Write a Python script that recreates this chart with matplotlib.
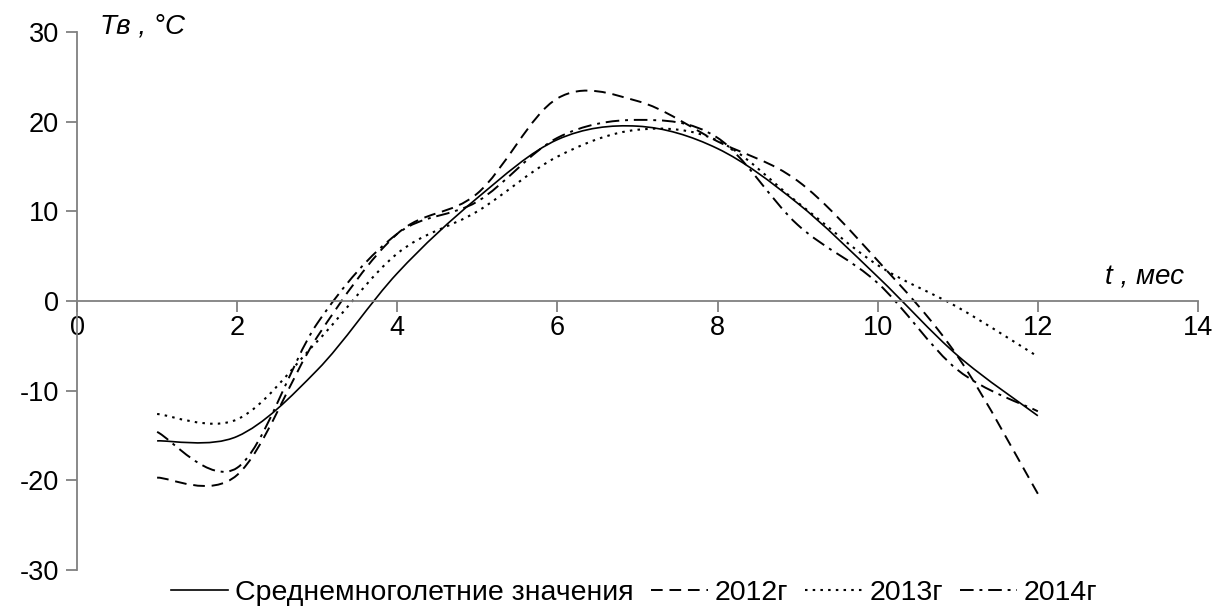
import numpy as np
import matplotlib
matplotlib.use("Agg")
import matplotlib.pyplot as plt
from matplotlib.path import Path
from matplotlib.patches import PathPatch
from matplotlib.lines import Line2D

plt.rcParams['font.family'] = ['Liberation Sans', 'DejaVu Sans']
plt.rcParams['axes.unicode_minus'] = False

months = [1, 2, 3, 4, 5, 6, 7, 8, 9, 10, 11, 12]
mean_vals = [-15.6, -15.1, -7.7, 3.1, 11.5, 18.0, 19.5, 17.0, 10.9, 2.7, -6.1, -12.8]
y2012 = [-19.7, -19.4, -4.0, 7.5, 12.0, 22.6, 22.3, 17.8, 13.4, 4.5, -6.2, -21.5]
y2013 = [-12.6, -13.2, -4.5, 5.3, 10.0, 16.1, 19.1, 17.9, 11.0, 4.0, -0.7, -6.2]
y2014 = [-14.6, -18.6, -2.5, 7.5, 11.1, 18.2, 20.2, 18.2, 8.5, 2.0, -7.7, -12.3]

labels = ['Среднемноголетние значения', '2012г', '2013г', '2014г']
xticks = [0, 2, 4, 6, 8, 10, 12, 14]
yticks = [-30, -20, -10, 0, 10, 20, 30]

styles = [
    dict(linestyle='-', linewidth=1.2),
    dict(linestyle=(0, (6, 3.5)), linewidth=1.4),
    dict(linestyle=(0, (1.2, 2.5)), linewidth=1.5),
    dict(linestyle=(0, (7, 3, 1.5, 3)), linewidth=1.4),
]


def smooth_path(xs, ys):
    pts = np.column_stack([xs, ys]).astype(float)
    n = len(pts)
    verts = [pts[0]]
    codes = [Path.MOVETO]
    for i in range(n - 1):
        p0 = pts[i - 1] if i > 0 else pts[i]
        p1 = pts[i]
        p2 = pts[i + 1]
        p3 = pts[i + 2] if i + 2 < n else pts[i + 1]
        c1 = p1 + (p2 - p0) / 6.0
        c2 = p2 - (p3 - p1) / 6.0
        verts += [c1, c2, p2]
        codes += [Path.CURVE4] * 3
    return Path(verts, codes)


fig = plt.figure(figsize=(12.15, 6.11), dpi=100)
ax = fig.add_axes([0.0634, 0.0671, 0.9226, 0.8805])

series = [mean_vals, y2012, y2013, y2014]
handles = []
for vals, st, lab in zip(series, styles, labels):
    patch = PathPatch(smooth_path(months, vals), fill=False, edgecolor='black',
                      capstyle='butt', **st)
    ax.add_patch(patch)
    handles.append(Line2D([], [], color='black', **st))

ax.set_xlim(0, 14)
ax.set_ylim(-30, 30)
ax.set_xticks(xticks)
ax.set_yticks(yticks)
ax.set_xticklabels([str(v) for v in xticks])
ax.set_yticklabels([str(v) for v in yticks])

for s in ['top', 'right']:
    ax.spines[s].set_visible(False)
ax.spines['bottom'].set_position(('data', 0))
for s in ['left', 'bottom']:
    ax.spines[s].set_color('#808080')
    ax.spines[s].set_linewidth(1.3)
ax.tick_params(axis='both', direction='out', length=8, width=1.3, color='#808080',
               labelsize=19.5, labelcolor='black')
ax.tick_params(axis='x', pad=2)
ax.tick_params(axis='y', pad=5)

ax.text(0.29, 30.6, 'Тв , °С', fontsize=20, fontstyle='italic', ha='left', va='center')
ax.text(13.83, 2.6, 't , мес', fontsize=20, fontstyle='italic', ha='right', va='center')

fig.legend(handles=handles, labels=labels, loc='center', bbox_to_anchor=(0.522, 0.03),
           ncol=4, frameon=False, fontsize=20.5, handlelength=2.0, handletextpad=0.25,
           columnspacing=0.6, borderpad=0)

fig.savefig('out.png', dpi=100)
